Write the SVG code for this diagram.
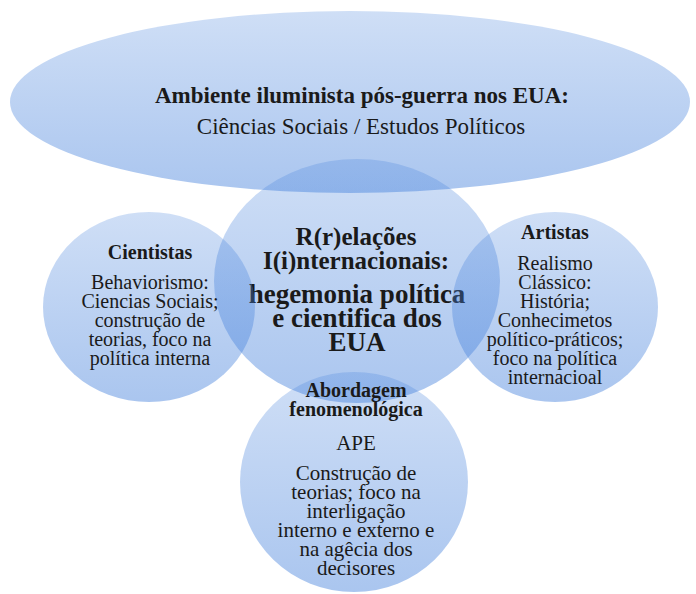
<svg xmlns="http://www.w3.org/2000/svg" width="696" height="594" viewBox="0 0 696 594">
<defs>
<linearGradient id="g" x1="0" y1="0" x2="0" y2="1">
<stop offset="0" stop-color="#4682dc" stop-opacity="0.26"/>
<stop offset="1" stop-color="#4682dc" stop-opacity="0.46"/>
</linearGradient>
</defs>
<rect width="696" height="594" fill="#ffffff"/>
<g id="top" fill="#1a1a1a" text-anchor="middle">
<ellipse fill="url(#g)" cx="350" cy="102" rx="340" ry="91"/>
<text font-family="Liberation Serif" font-weight="bold" font-size="23" x="362" y="103">Ambiente iluminista pós-guerra nos EUA:</text>
<text font-family="Liberation Serif" font-size="23" x="361" y="134">Ciências Sociais / Estudos Políticos</text>
</g>
<g id="center" fill="#1a1a1a" text-anchor="middle">
<ellipse fill="url(#g)" cx="357" cy="281" rx="143" ry="122"/>
<text font-family="Liberation Serif" font-weight="bold" font-size="25" x="356" y="245">R(r)elações</text>
<text font-family="Liberation Serif" font-weight="bold" font-size="25" x="356" y="269">I(i)nternacionais:</text>
<text font-family="Liberation Serif" font-weight="bold" font-size="27" x="357" y="303">hegemonia política</text>
<text font-family="Liberation Serif" font-weight="bold" font-size="27" x="357" y="327">e cientifica dos</text>
<text font-family="Liberation Serif" font-weight="bold" font-size="27" x="357" y="351">EUA</text>
</g>
<g id="left" fill="#1a1a1a" text-anchor="middle">
<ellipse fill="url(#g)" cx="149" cy="307" rx="106" ry="95"/>
<text font-family="Liberation Serif" font-weight="bold" font-size="20" x="150" y="259">Cientistas</text>
<text font-family="Liberation Serif" font-size="20" x="150" y="289">Behaviorismo:</text>
<text font-family="Liberation Serif" font-size="20" x="150" y="308">Ciencias Sociais;</text>
<text font-family="Liberation Serif" font-size="20" x="150" y="327">construção de</text>
<text font-family="Liberation Serif" font-size="20" x="150" y="346">teorias, foco na</text>
<text font-family="Liberation Serif" font-size="20" x="150" y="365">política interna</text>
</g>
<g id="right" fill="#1a1a1a" text-anchor="middle">
<ellipse fill="url(#g)" cx="555" cy="307" rx="103" ry="95"/>
<text font-family="Liberation Serif" font-weight="bold" font-size="20" x="555" y="239">Artistas</text>
<text font-family="Liberation Serif" font-size="20" x="555" y="270">Realismo</text>
<text font-family="Liberation Serif" font-size="20" x="555" y="289">Clássico:</text>
<text font-family="Liberation Serif" font-size="20" x="555" y="308">História;</text>
<text font-family="Liberation Serif" font-size="20" x="555" y="327">Conhecimetos</text>
<text font-family="Liberation Serif" font-size="20" x="555" y="346">político-práticos;</text>
<text font-family="Liberation Serif" font-size="20" x="555" y="365">foco na política</text>
<text font-family="Liberation Serif" font-size="20" x="555" y="384">internacioal</text>
</g>
<g id="bottom" fill="#1a1a1a" text-anchor="middle">
<ellipse fill="url(#g)" cx="354" cy="482" rx="114" ry="110"/>
<text font-family="Liberation Serif" font-weight="bold" font-size="20" x="356" y="397">Abordagem</text>
<text font-family="Liberation Serif" font-weight="bold" font-size="20" x="356" y="416">fenomenológica</text>
<text font-family="Liberation Serif" font-size="21" x="356" y="450">APE</text>
<text font-family="Liberation Serif" font-size="21" x="356" y="480">Construção de</text>
<text font-family="Liberation Serif" font-size="21" x="356" y="499">teorias; foco na</text>
<text font-family="Liberation Serif" font-size="21" x="356" y="518">interligação</text>
<text font-family="Liberation Serif" font-size="21" x="356" y="537">interno e externo e</text>
<text font-family="Liberation Serif" font-size="21" x="356" y="556">na agêcia dos</text>
<text font-family="Liberation Serif" font-size="21" x="356" y="575">decisores</text>
</g>
<g id="connectors"></g>
</svg>
